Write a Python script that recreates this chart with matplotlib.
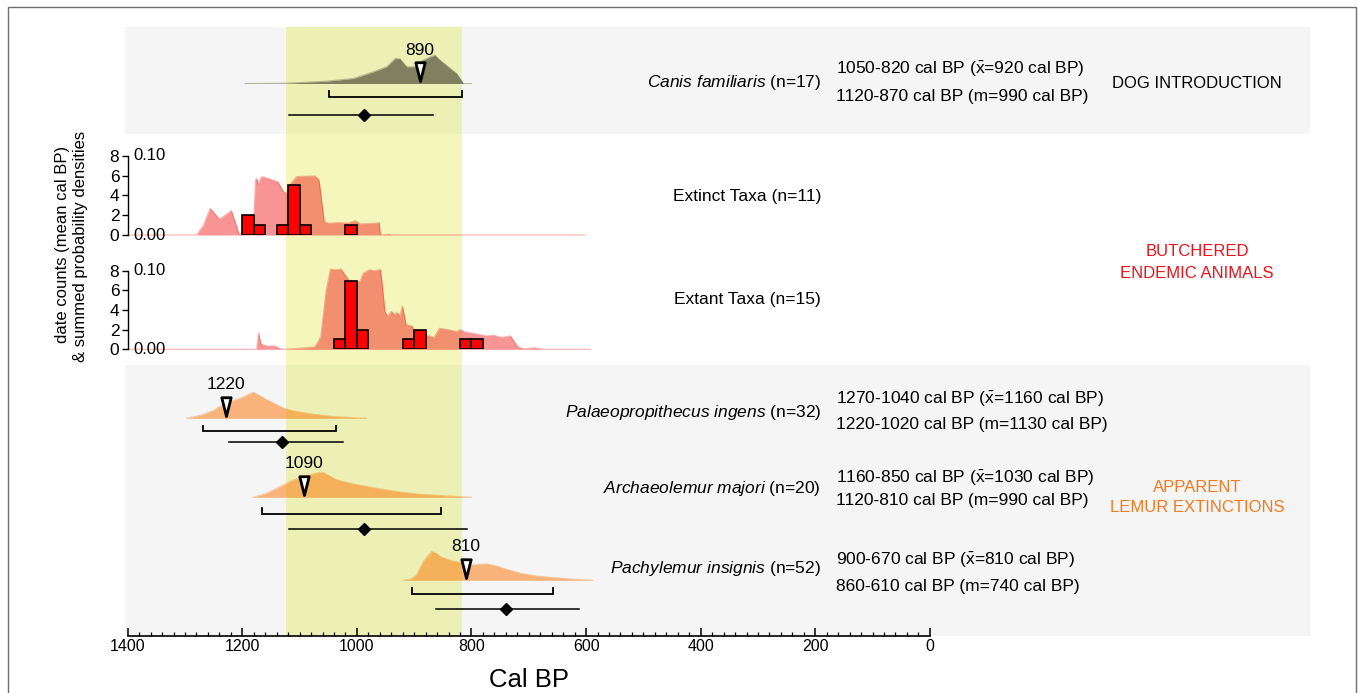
import matplotlib
matplotlib.use('Agg')
import matplotlib.pyplot as plt
from matplotlib.patches import Rectangle
from matplotlib.path import Path
from matplotlib.markers import MarkerStyle
import matplotlib.transforms as mtransforms

plt.rcParams['font.family'] = ['Liberation Sans', 'DejaVu Sans']
plt.rcParams['mathtext.fontset'] = 'custom'
plt.rcParams['mathtext.rm'] = 'Liberation Sans'
plt.rcParams['mathtext.it'] = 'Liberation Sans:italic'

# ---------------- data ----------------
band_years = (1123, 817)

species = ['Canis familiaris', 'Palaeopropithecus ingens', 'Archaeolemur majori', 'Pachylemur insignis']
species_n = [17, 32, 20, 52]
mean_ranges = [(1048, 817), (1269, 1036), (1166, 854), (903, 658)]
median_ranges = [(1118, 868), (1224, 1024), (1118, 807), (862, 612)]
median_points = [988, 1130, 988, 740]
triangle_years = [890, 1228, 1092, 810]
triangle_labels = ['890', '1220', '1090', '810']
text_line1 = ['1050-820 cal BP (x=920 cal BP)', '1270-1040 cal BP (x=1160 cal BP)',
              '1160-850 cal BP (x=1030 cal BP)', '900-670 cal BP (x=810 cal BP)']
text_line2 = ['1120-870 cal BP (m=990 cal BP)', '1220-1020 cal BP (m=1130 cal BP)',
              '1120-810 cal BP (m=990 cal BP)', '860-610 cal BP (m=740 cal BP)']

# relative summed probability heights
dog_density = [(1195, 0), (1122, 0.3), (1053, 2.3), (1006, 5), (971, 11.7), (948, 16.7),
               (933, 25), (925, 24.7), (913, 16.7), (899, 16.7), (890, 21.7), (872, 26.7),
               (864, 28.3), (855, 23.3), (837, 15), (826, 10), (814, 0), (800, 0)]
palaeo_density = [(1297, 0), (1271, 3.3), (1250, 8), (1233, 14), (1204, 20), (1181, 26),
                  (1170, 22.5), (1157, 18.3), (1140, 13.5), (1128, 10), (1110, 7.3),
                  (1088, 5), (1060, 3), (1041, 1.7), (1010, 0.8), (983, 0)]
archaeo_density = [(1181, 0), (1160, 3.5), (1146, 7.3), (1111, 17.3), (1085, 22), (1064, 25),
                   (1058, 24.5), (1035, 17.3), (1006, 13.3), (975, 10), (948, 7.3), (920, 5),
                   (890, 3), (860, 2), (832, 1), (800, 0)]
pachy_density = [(919, 0), (905, 1.5), (896, 5.3), (884, 18.7), (870, 28.7), (862, 27),
                 (855, 23.7), (837, 19.7), (814, 17), (797, 15.3), (784, 16), (774, 16.3),
                 (758, 14.5), (745, 12), (715, 7), (690, 4.5), (657, 2.7), (625, 1.2), (588, 0)]

extinct_bins = [1190, 1170, 1130, 1110, 1090, 1010]
extinct_counts = [2, 1, 1, 5, 1, 1]
extant_bins = [1030, 1010, 990, 910, 890, 810, 790]
extant_counts = [1, 7, 2, 1, 2, 1, 1]

extinct_density = [(1400, 0), (1280, 0), (1268, 0.012), (1256, 0.0337), (1240, 0.020),
                   (1219, 0.0307), (1206, 0.002), (1198, 0), (1181, 0), (1177, 0.069),
                   (1175, 0.0715), (1172, 0.064), (1168, 0.072), (1165, 0.0735),
                   (1150, 0.070), (1138, 0.067), (1128, 0.0546), (1122, 0.053),
                   (1115, 0.065), (1105, 0.0735), (1090, 0.074), (1073, 0.0744),
                   (1066, 0.069), (1057, 0.0168), (1050, 0.0147), (1034, 0.0155),
                   (1015, 0.015), (1003, 0.018), (995, 0.0139), (969, 0.0147),
                   (961, 0.0155), (959, 0), (950, 0.0005), (945, 0.001), (940, 0), (602, 0)]
extant_density = [(1400, 0), (1340, 0), (1175, 0), (1171.5, 0.021), (1168, 0.008),
                  (1165, 0.0055), (1156, 0.004), (1144, 0.0042), (1131, 0), (1112, 0.0005),
                  (1073, 0.003), (1063, 0.016), (1053.5, 0.0755), (1046, 0.102),
                  (1037.5, 0.101), (1027.6, 0.102), (1014.5, 0.088), (995, 0.086),
                  (988.6, 0.0967), (979, 0.101), (969, 0.0997), (959, 0.1015), (956, 0.084),
                  (951, 0.0478), (946.5, 0.042), (940, 0.048), (933.6, 0.044), (930, 0.047),
                  (925, 0.042), (920.5, 0.055), (914, 0.031), (904, 0.0297), (898, 0.0195),
                  (874, 0.017), (865.5, 0.0148), (856, 0.0267), (839, 0.0246), (826, 0.0224),
                  (820, 0.025), (813, 0.0224), (775, 0.017), (762, 0.018), (748.5, 0.015),
                  (732, 0.017), (719.5, 0.0033), (709.6, 0.0007), (690, 0.0018), (674, 0),
                  (593, 0)]

count_ticks = [0, 2, 4, 6, 8]
density_ticks = [0.00, 0.10]
x_major = list(range(0, 1401, 200))
x_minor = list(range(0, 1401, 20))

# ---------------- layout (pixels) ----------------
W, H = 1358, 693
fig = plt.figure(figsize=(W / 100, H / 100), dpi=100)


def fx(px):
    return px / W


def fy(py):
    return 1 - py / H


X_LEFT, X_RIGHT = 1404.7, -663.4
AX_L, AX_R, AX_T, AX_B = 125, 1310, 27, 636

ax = fig.add_axes([fx(AX_L), fy(AX_B), fx(AX_R) - fx(AX_L), fy(AX_T) - fy(AX_B)])
ax.set_xlim(X_LEFT, X_RIGHT)
ax.set_ylim(AX_B, AX_T)

# background panels & band
ax.axhspan(27, 134, color='#f5f5f5', lw=0, zorder=0)
ax.axhspan(365, 636, color='#f5f5f5', lw=0, zorder=0)
ax.axvspan(band_years[0], band_years[1], color='#e0e840', alpha=0.35, lw=0, zorder=1)

rows = [
    dict(base=83.5, btop=90.7, bbot=96.7, med=115, dens=dog_density, color='#808060', alpha=1.0,
         ly=(69, 96), sy=83),
    dict(base=418.3, btop=426, bbot=431, med=442.3, dens=palaeo_density, color='#fb7300', alpha=0.5,
         ly=(399, 424), sy=412),
    dict(base=497.3, btop=508.3, bbot=514.3, med=529.3, dens=archaeo_density, color='#fb7300', alpha=0.5,
         ly=(478, 501), sy=489),
    dict(base=580.3, btop=587.7, bbot=594, med=608.7, dens=pachy_density, color='#fb7300', alpha=0.5,
         ly=(560, 587), sy=569),
]

tri_path = Path([(-0.25, 1.0), (0.25, 1.0), (0.0, 0.0), (-0.25, 1.0)],
                [Path.MOVETO, Path.LINETO, Path.LINETO, Path.CLOSEPOLY])
tri_marker = MarkerStyle(tri_path, joinstyle='miter')

for i, r in enumerate(rows):
    yrs = [p[0] for p in r['dens']]
    hs = [r['base'] - p[1] for p in r['dens']]
    ax.fill_between(yrs, hs, r['base'], color=r['color'], alpha=r['alpha'], lw=0, zorder=2)
    ax.plot(yrs, hs, color=r['color'], alpha=0.5 if i == 0 else 0.35, lw=0.8, zorder=2)
    lo, hi = mean_ranges[i]
    ax.plot([lo, lo, hi, hi], [r['btop'], r['bbot'], r['bbot'], r['btop']], color='black',
            lw=1.3, solid_joinstyle='miter', zorder=3)
    mlo, mhi = median_ranges[i]
    ax.plot([mlo, mhi], [r['med'], r['med']], color='black', lw=1.1, zorder=3)
    ax.plot([median_points[i]], [r['med']], marker='D', ms=6.5, color='black', zorder=4)
    ax.plot([triangle_years[i]], [r['base'] - 2.5], marker=tri_marker, ms=27, mfc='white', mec='black',
            mew=2.0, linestyle='none', zorder=5)
    ax.annotate(triangle_labels[i], (triangle_years[i], r['base']), xytext=(0, 24),
                textcoords='offset points', ha='center', va='center', fontsize=12.5, zorder=6)
    # text on right
    fig.text(fx(821), fy(r['sy']), r'$\mathit{' + species[i].replace(' ', r'\ ') + '}$' +
             ' (n=%d)' % species_n[i], ha='right', va='center', fontsize=12.5)
    l1 = text_line1[i].replace('(x=', r'($\bar{\mathrm{x}}$=')
    fig.text(fx(836), fy(r['ly'][0]), l1, ha='left', va='center', fontsize=12.5)
    fig.text(fx(836), fy(r['ly'][1]), text_line2[i], ha='left', va='center', fontsize=12.5)

# bottom axis
for s in ['left', 'top', 'right']:
    ax.spines[s].set_visible(False)
ax.spines['bottom'].set_bounds(0, 1400)
ax.spines['bottom'].set_linewidth(1.2)
ax.set_yticks([])
ax.set_xticks(x_major)
ax.set_xticks([v for v in x_minor if v not in x_major], minor=True)
ax.tick_params(axis='x', which='major', direction='in', length=5.5, width=1.1, labelsize=11.5, pad=2)
ax.tick_params(axis='x', which='minor', direction='in', length=2.6, width=0.9)
blend = mtransforms.blended_transform_factory(ax.transData, fig.transFigure)
ax.text(700, fy(680), 'Cal BP', transform=blend, ha='center', va='center', fontsize=18.5)


# histogram insets
def make_inset(y8, y0, centers, counts, dens, label, label_y):
    a = fig.add_axes([fx(AX_L), fy(y0), fx(AX_R) - fx(AX_L), fy(y8) - fy(y0)])
    a.set_xlim(X_LEFT, X_RIGHT)
    a.set_ylim(0, 8)
    d = a.twinx()
    d.set_ylim(0, 0.10)
    d.set_xlim(X_LEFT, X_RIGHT)
    a.set_zorder(d.get_zorder() + 1)
    a.patch.set_visible(False)
    d.patch.set_visible(False)
    yrs = [p[0] for p in dens]
    vals = [p[1] for p in dens]
    d.fill_between(yrs, vals, 0, color='#f01212', alpha=0.45, lw=0, clip_on=False)
    d.plot(yrs, vals, color='#f01212', alpha=0.3, lw=0.9, clip_on=False)
    for s in d.spines.values():
        s.set_visible(False)
    d.set_yticks([])
    d.set_xticks([])
    for v in density_ticks:
        d.annotate('%.2f' % v, (1400, v), xytext=(4, 0), textcoords='offset points',
                   ha='left', va='center', fontsize=12)
    a.bar(centers, counts, width=20, color='#ff0000', edgecolor='black', linewidth=1.2, zorder=3)
    for s in ['top', 'right', 'bottom']:
        a.spines[s].set_visible(False)
    a.spines['left'].set_position(('data', 1400))
    a.spines['left'].set_bounds(0, 8)
    a.spines['left'].set_linewidth(1.0)
    a.set_yticks(count_ticks)
    a.set_xticks([])
    a.tick_params(axis='y', direction='out', length=4, width=1, labelsize=12.5, pad=2)
    fig.text(fx(821), fy(label_y), label, ha='right', va='center', fontsize=12.5)


make_inset(155.7, 235, extinct_bins, extinct_counts, extinct_density, 'Extinct Taxa (n=11)', 196)
make_inset(270.7, 349.3, extant_bins, extant_counts, extant_density, 'Extant Taxa (n=15)', 299)

# y label
fig.text(fx(62), fy(244), 'date counts (mean cal BP)', rotation=90, ha='center', va='center', fontsize=12)
fig.text(fx(81), fy(246), '& summed probability densities', rotation=90, ha='center', va='center',
         fontsize=12)

# category labels
fig.text(fx(1197), fy(83), 'DOG INTRODUCTION', ha='center', va='center', fontsize=12, color='black')
fig.text(fx(1197), fy(252), 'BUTCHERED', ha='center', va='center', fontsize=12, color='#e8141c')
fig.text(fx(1197), fy(273), 'ENDEMIC ANIMALS', ha='center', va='center', fontsize=12, color='#e8141c')
fig.text(fx(1197), fy(487), 'APPARENT', ha='center', va='center', fontsize=12, color='#f47a20')
fig.text(fx(1197), fy(508), 'LEMUR EXTINCTIONS', ha='center', va='center', fontsize=12, color='#f47a20')

# frame
fig.patches.append(Rectangle((fx(8), -0.01), fx(1356) - fx(8), fy(7) + 0.01, transform=fig.transFigure,
                             fill=False, edgecolor='#707070', lw=1.0))

fig.savefig('out.png', dpi=100)
